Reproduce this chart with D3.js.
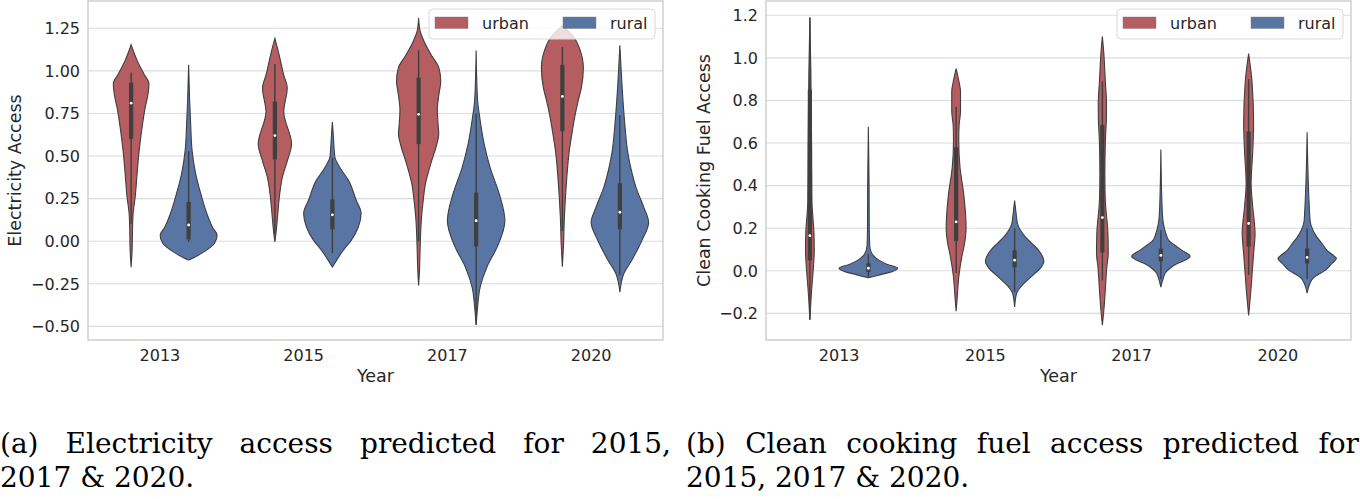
<!DOCTYPE html>
<html>
<head>
<meta charset="utf-8">
<script src="https://cdn.jsdelivr.net/npm/d3@7"></script>
<style>
  body { margin: 0; background: #fff; }
  text { font-family: "DejaVu Sans", sans-serif; fill: #262626; }
  .cap { font-family: "DejaVu Serif", serif; fill: #000; font-size: 28px; }
</style>
</head>
<body>
<svg id="fig" width="1360" height="499"></svg>
<script>
// categories
var years = ["2013", "2015", "2017", "2020"];
var groups = ["urban", "rural"];

// tick labels
var elecTicks = [-0.5, -0.25, 0, 0.25, 0.5, 0.75, 1.0, 1.25];
var fuelTicks = [-0.2, 0, 0.2, 0.4, 0.6, 0.8, 1.0, 1.2];

// violin outlines: [value, relative density], one list per year
var elecUrbanShape = [
    [[1.153,0],[1.06,0.21],[0.98,0.45],[0.925,0.62],[0.867,0.59],[0.785,0.49],[0.667,0.38],[0.533,0.28],[0.40,0.21],[0.258,0.14],[0.164,0.07],[0.082,0.05],[-0.05,0.035],[-0.152,0]],
    [[1.19,0],[1.10,0.14],[0.98,0.30],[0.90,0.43],[0.76,0.31],[0.57,0.58],[0.47,0.43],[0.375,0.26],[0.28,0.17],[0.16,0.10],[0.065,0.05],[-0.005,0]],
    [[1.31,0],[1.235,0.05],[1.18,0.17],[1.09,0.45],[1.02,0.70],[0.94,0.77],[0.855,0.70],[0.77,0.65],[0.70,0.67],[0.63,0.70],[0.55,0.60],[0.47,0.45],[0.40,0.33],[0.34,0.24],[0.24,0.16],[0.14,0.10],[0.047,0.07],[-0.053,0.05],[-0.17,0.03],[-0.26,0]],
    [[1.265,0],[1.19,0.43],[1.12,0.62],[1.02,0.73],[0.90,0.66],[0.825,0.55],[0.73,0.43],[0.63,0.33],[0.53,0.24],[0.34,0.14],[0.14,0.07],[-0.02,0.04],[-0.15,0]]
];
var elecRuralShape = [
    [[1.036,0],[0.826,0.035],[0.69,0.07],[0.533,0.12],[0.40,0.24],[0.28,0.42],[0.164,0.63],[0.082,0.83],[0.035,0.99],[-0.012,0.90],[-0.064,0.52],[-0.094,0.21],[-0.11,0]],
    [[0.70,0],[0.60,0.04],[0.52,0.07],[0.49,0.09],[0.43,0.27],[0.357,0.56],[0.24,0.83],[0.164,1.0],[0.082,0.90],[0.006,0.66],[-0.053,0.38],[-0.111,0.15],[-0.152,0]],
    [[1.12,0],[0.83,0.05],[0.71,0.14],[0.57,0.28],[0.43,0.49],[0.28,0.80],[0.12,1.0],[-0.035,0.73],[-0.15,0.38],[-0.27,0.14],[-0.39,0.05],[-0.49,0]],
    [[1.15,0],[0.925,0.07],[0.69,0.17],[0.515,0.28],[0.415,0.40],[0.316,0.56],[0.20,0.83],[0.11,1.0],[0.006,0.77],[-0.11,0.42],[-0.19,0.14],[-0.30,0]]
];
var fuelUrbanShape = [
    [[1.19,0],[0.925,0.035],[0.564,0.06],[0.33,0.07],[0.176,0.14],[0.096,0.15],[0.016,0.12],[-0.09,0.06],[-0.23,0]],
    [[0.95,0],[0.90,0.08],[0.84,0.15],[0.75,0.15],[0.68,0.10],[0.61,0.09],[0.49,0.13],[0.36,0.26],[0.27,0.32],[0.20,0.34],[0.13,0.29],[0.07,0.20],[-0.03,0.09],[-0.13,0.035],[-0.19,0]],
    [[1.10,0],[1.02,0.05],[0.89,0.10],[0.79,0.14],[0.74,0.14],[0.60,0.10],[0.45,0.085],[0.33,0.10],[0.175,0.19],[0.08,0.20],[0.016,0.15],[-0.09,0.10],[-0.185,0.05],[-0.255,0]],
    [[1.02,0],[0.88,0.12],[0.69,0.17],[0.56,0.14],[0.41,0.085],[0.30,0.14],[0.176,0.22],[0.08,0.17],[-0.012,0.12],[-0.105,0.07],[-0.21,0]]
];
var fuelRuralShape = [
    [[0.677,0],[0.40,0.025],[0.20,0.03],[0.12,0.045],[0.09,0.09],[0.07,0.18],[0.05,0.36],[0.03,0.65],[0.012,1.0],[-0.005,0.78],[-0.018,0.42],[-0.028,0.15],[-0.033,0]],
    [[0.33,0],[0.27,0.05],[0.22,0.10],[0.19,0.20],[0.16,0.36],[0.13,0.58],[0.096,0.82],[0.065,0.96],[0.045,1.0],[0.016,0.90],[-0.03,0.55],[-0.077,0.20],[-0.105,0.07],[-0.17,0]],
    [[0.57,0],[0.27,0.05],[0.176,0.17],[0.143,0.27],[0.12,0.48],[0.096,0.72],[0.068,1.0],[0.049,0.82],[0.035,0.58],[0.012,0.31],[-0.007,0.17],[-0.035,0.08],[-0.077,0]],
    [[0.65,0],[0.236,0.10],[0.19,0.20],[0.157,0.34],[0.128,0.51],[0.096,0.68],[0.073,0.89],[0.058,1.0],[0.035,0.85],[0.002,0.62],[-0.021,0.34],[-0.035,0.20],[-0.058,0.10],[-0.105,0]]
];

// inner boxes: [lower whisker, q1, median, q3, upper whisker]
var elecUrbanBox = [[0.10,0.60,0.81,0.93,0.99],[0.04,0.48,0.62,0.82,1.04],[0.0,0.57,0.745,0.96,1.12],[0.06,0.645,0.85,1.035,1.14]];
var elecRuralBox = [[-0.005,0.01,0.095,0.23,0.53],[-0.07,0.07,0.155,0.245,0.49],[-0.49,-0.03,0.12,0.285,0.75],[-0.20,0.07,0.17,0.34,0.74]];
var fuelUrbanBox = [[-0.23,0.05,0.165,0.85,1.19],[-0.01,0.14,0.23,0.58,0.77],[-0.045,0.086,0.25,0.685,0.89],[-0.02,0.114,0.222,0.654,0.90]];
var fuelRuralBox = [[-0.03,-0.005,0.012,0.035,0.08],[-0.10,0.016,0.05,0.096,0.20],[-0.04,0.044,0.072,0.104,0.19],[-0.04,0.035,0.063,0.105,0.20]];

var colors = {urban: "#B55D60", rural: "#5975A4"};
var edge = "#3f3f3f";

var svg = d3.select("#fig");

function drawPanel(p) {
    var y = d3.scaleLinear().domain(p.domain).range([p.bottom, p.top]);
    var x = d3.scaleBand().domain(years).range([p.left, p.right]);
    var hue = d3.scaleBand().domain(groups).range([-0.4 * x.bandwidth(), 0.4 * x.bandwidth()]);
    var w = d3.scaleLinear().domain([0, 1]).range([0, hue.bandwidth() / 2]);

    var g = svg.append("g");

    // grid
    g.selectAll(".grid").data(p.ticks).enter().append("line")
        .attr("x1", p.left).attr("x2", p.right)
        .attr("y1", function (d) { return y(d); })
        .attr("y2", function (d) { return y(d); })
        .attr("stroke", "#dcdcdc").attr("stroke-width", 1.1);

    // y tick labels
    g.selectAll(".ylab").data(p.ticks).enter().append("text")
        .attr("x", p.left - 8).attr("y", function (d) { return y(d); })
        .attr("dy", "0.36em").attr("text-anchor", "end")
        .style("font-size", "16px")
        .text(d3.format(p.fmt));

    // x tick labels
    g.selectAll(".xlab").data(years).enter().append("text")
        .attr("x", function (d) { return x(d) + x.bandwidth() / 2; })
        .attr("y", p.bottom + 21).attr("text-anchor", "middle")
        .style("font-size", "16px")
        .text(function (d) { return d; });

    // violins
    groups.forEach(function (grp) {
        var shapes = p.shapes[grp], boxes = p.boxes[grp];
        years.forEach(function (yr, i) {
            var cx = x(yr) + x.bandwidth() / 2 + hue(grp) + hue.bandwidth() / 2;
            var area = d3.area()
                .curve(d3.curveMonotoneY)
                .y(function (d) { return y(d[0]); })
                .x0(function (d) { return cx - w(d[1]); })
                .x1(function (d) { return cx + w(d[1]); });
            g.append("path").attr("d", area(shapes[i]))
                .attr("fill", colors[grp]).attr("stroke", edge).attr("stroke-width", 1.1);
            var b = boxes[i];
            g.append("line").attr("x1", cx).attr("x2", cx)
                .attr("y1", y(b[4])).attr("y2", y(b[0]))
                .attr("stroke", edge).attr("stroke-width", 1.4);
            g.append("line").attr("x1", cx).attr("x2", cx)
                .attr("y1", y(b[3])).attr("y2", y(b[1]))
                .attr("stroke", edge).attr("stroke-width", 4.2);
            g.append("circle").attr("cx", cx).attr("cy", y(b[2])).attr("r", 1.4)
                .attr("fill", "#fff");
        });
    });

    // frame
    g.append("rect").attr("x", p.left).attr("y", p.top)
        .attr("width", p.right - p.left).attr("height", p.bottom - p.top)
        .attr("fill", "none").attr("stroke", "#cccccc").attr("stroke-width", 1.4);

    // axis titles
    g.append("text")
        .attr("transform", "translate(" + p.ylabX + "," + ((p.top + p.bottom) / 2) + ") rotate(-90)")
        .attr("text-anchor", "middle").style("font-size", "17.5px")
        .text(p.ylabel);
    g.append("text")
        .attr("x", (p.left + p.right) / 2).attr("y", p.bottom + 42)
        .attr("text-anchor", "middle").style("font-size", "17.5px")
        .text("Year");

    // legend
    var lx = p.right - 234, ly = p.top + 8;
    var leg = g.append("g").attr("transform", "translate(" + lx + "," + ly + ")");
    leg.append("rect").attr("width", 226).attr("height", 30).attr("rx", 4)
        .attr("fill", "#fff").attr("fill-opacity", 0.8)
        .attr("stroke", "#d8d8d8").attr("stroke-width", 1);
    groups.forEach(function (grp, i) {
        var ox = 6 + i * 128;
        leg.append("rect").attr("x", ox).attr("y", 8).attr("width", 33).attr("height", 11.5)
            .attr("fill", colors[grp]).attr("stroke", "#777").attr("stroke-width", 0.4);
        leg.append("text").attr("x", ox + 47).attr("y", 20)
            .style("font-size", "16px").text(grp);
    });
}

drawPanel({
    left: 88, right: 663, top: 1, bottom: 340,
    domain: [-0.58, 1.41], ticks: elecTicks, fmt: ".2f",
    ylabel: "Electricity Access", ylabX: 21,
    shapes: {urban: elecUrbanShape, rural: elecRuralShape},
    boxes: {urban: elecUrbanBox, rural: elecRuralBox}
});
drawPanel({
    left: 766, right: 1351, top: 1, bottom: 340,
    domain: [-0.325, 1.267], ticks: fuelTicks, fmt: ".1f",
    ylabel: "Clean Cooking Fuel Access", ylabX: 710,
    shapes: {urban: fuelUrbanShape, rural: fuelRuralShape},
    boxes: {urban: fuelUrbanBox, rural: fuelRuralBox}
});

// captions, first line justified like the LaTeX original
function caption(line1, line2, x0, x1) {
    var words = line1.split(" ");
    var nodes = words.map(function (wd) {
        return svg.append("text").attr("class", "cap").attr("y", 453).text(wd);
    });
    var widths = nodes.map(function (n) { return n.node().getComputedTextLength(); });
    var gap = (x1 - x0 - d3.sum(widths)) / (words.length - 1);
    var cur = x0;
    nodes.forEach(function (n, i) { n.attr("x", cur); cur += widths[i] + gap; });
    svg.append("text").attr("class", "cap").attr("x", x0).attr("y", 487).text(line2);
}
caption("(a) Electricity access predicted for 2015,", "2017 & 2020.", 0, 671);
caption("(b) Clean cooking fuel access predicted for", "2015, 2017 & 2020.", 686, 1359);
</script>
</body>
</html>
